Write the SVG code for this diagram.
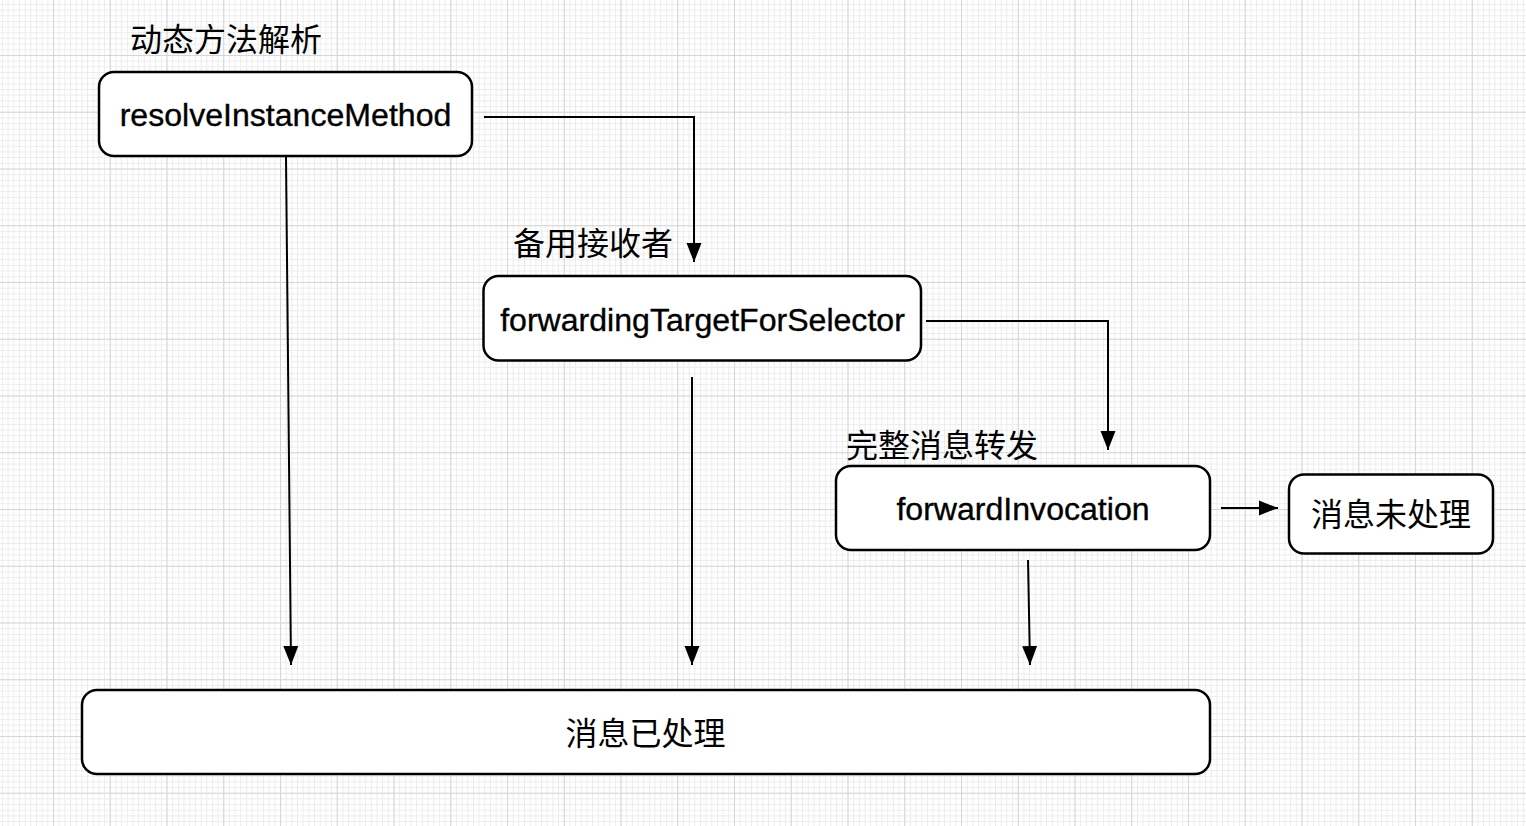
<svg xmlns="http://www.w3.org/2000/svg" width="1526" height="826" viewBox="0 0 1526 826">
<defs>
<pattern id="minor" patternUnits="userSpaceOnUse" x="53" y="-1.75" width="5.675" height="5.675">
<path d="M0.5,0 V5.675 M0,0.5 H5.675" fill="none" stroke="#ececec" stroke-width="1"/>
</pattern>
<pattern id="major" patternUnits="userSpaceOnUse" x="53" y="-1.75" width="56.75" height="56.75">
<path d="M0.5,0 V56.75 M0,0.5 H56.75" fill="none" stroke="#d6d6d6" stroke-width="1"/>
</pattern>
<marker id="arrow" markerUnits="userSpaceOnUse" markerWidth="20" markerHeight="16" refX="19" refY="8" orient="auto" viewBox="0 0 20 16">
<path d="M0,0.5 L19,8 L0,15.5 Z" fill="#000"/>
</marker>
</defs>
<style>
.box{fill:#fff;stroke:#000;stroke-width:2.5}
.lat{font-family:"Liberation Sans",Arial,sans-serif;font-size:32.1px;fill:#000;stroke:#000;stroke-width:0.35;text-anchor:middle}
.cjk{font-family:"Noto Sans CJK SC","Noto Sans",sans-serif;font-size:32px;fill:#000}
.mid{text-anchor:middle}
.conn path{fill:none;stroke:#000;stroke-width:2;marker-end:url(#arrow)}
</style>
<rect width="1526" height="826" fill="#fff"/>
<rect width="1526" height="826" fill="url(#minor)"/>
<rect width="1526" height="826" fill="url(#major)"/>

<g id="label-dynamic"><text class="cjk" x="130" y="51">动态方法解析</text></g>
<g id="label-backup"><text class="cjk" x="513" y="254.5">备用接收者</text></g>
<g id="label-forward"><text class="cjk" x="846" y="457">完整消息转发</text></g>

<g id="node-resolve">
<rect class="box" x="99" y="72" width="373" height="84" rx="15"/>
<text class="lat" x="285.5" y="126">resolveInstanceMethod</text>
</g>
<g id="node-target">
<rect class="box" x="483.5" y="276" width="437.5" height="84.5" rx="15"/>
<text class="lat" x="702.5" y="331">forwardingTargetForSelector</text>
</g>
<g id="node-invocation">
<rect class="box" x="836" y="466" width="374" height="84" rx="15"/>
<text class="lat" x="1023" y="520">forwardInvocation</text>
</g>
<g id="node-unhandled">
<rect class="box" x="1289" y="474.5" width="204" height="79" rx="15"/>
<text class="cjk mid" x="1391" y="526">消息未处理</text>
</g>
<g id="node-handled">
<rect class="box" x="82" y="690" width="1128" height="84" rx="15"/>
<text class="cjk mid" x="645.5" y="745">消息已处理</text>
</g>

<g id="connectors" class="conn">
<path d="M286,157 L291,665"/>
<path d="M484,117 H694 V262"/>
<path d="M692,377 V665"/>
<path d="M926,321 H1108 V450"/>
<path d="M1028,560 L1030,665"/>
<path d="M1221,508 H1278"/>
</g>
</svg>
